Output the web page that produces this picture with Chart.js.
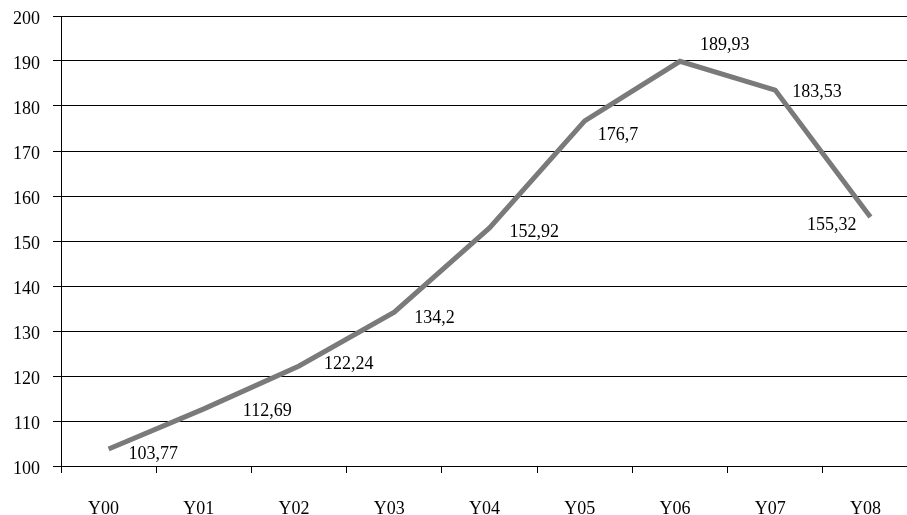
<!DOCTYPE html>
<html>
<head>
<meta charset="utf-8">
<script src="https://cdn.jsdelivr.net/npm/chart.js@4.4.1/dist/chart.umd.min.js"></script>
<style>
  html, body { margin: 0; padding: 0; background: #fff; overflow: hidden; }
  #wrap { width: 907px; height: 515px; overflow: hidden; }
  canvas { display: block; }
</style>
</head>
<body>
<div id="wrap"><canvas id="chart" width="918" height="515"></canvas></div>
<script>
// Yearly index values
const categories = ['Y00', 'Y01', 'Y02', 'Y03', 'Y04', 'Y05', 'Y06', 'Y07', 'Y08'];
const values = [103.77, 112.69, 122.24, 134.2, 152.92, 176.7, 189.93, 183.53, 155.32];
const yTicks = [100, 110, 120, 130, 140, 150, 160, 170, 180, 190, 200];

// Hand placement of each value label relative to its point: [dx, dy baseline, align]
const labelPlacement = [
  [20, 10, 'left'], [39, 7, 'left'], [25, 3, 'left'], [20, 11, 'left'], [20, 9, 'left'],
  [13, 19, 'left'], [20, -11, 'left'], [17, 7, 'left'], [-14, 13, 'right']
];

const FONT = '"Liberation Serif", "Times New Roman", serif';

// Draws the decimal-comma value labels next to the line points
const valueLabels = {
  id: 'valueLabels',
  afterDatasetsDraw(chart) {
    const ctx = chart.ctx;
    const meta = chart.getDatasetMeta(0);
    ctx.save();
    ctx.font = '18px ' + FONT;
    ctx.fillStyle = '#000';
    ctx.textBaseline = 'alphabetic';
    meta.data.forEach((pt, i) => {
      const [dx, dy, align] = labelPlacement[i];
      ctx.textAlign = align;
      const text = String(values[i]).replace('.', ',');
      ctx.fillText(text, pt.x + dx, pt.y + dy);
    });
    ctx.restore();
  }
};

new Chart(document.getElementById('chart'), {
  type: 'line',
  data: {
    labels: categories,
    datasets: [{
      data: values,
      borderColor: '#7a7a7a',
      borderWidth: 5,
      pointRadius: 0,
      pointHoverRadius: 0,
      tension: 0,
      fill: false,
      borderCapStyle: 'butt',
      borderJoinStyle: 'miter'
    }]
  },
  options: {
    responsive: false,
    animation: false,
    devicePixelRatio: 1,
    layout: { padding: { top: 16, right: 0, bottom: 0, left: 0 } },
    plugins: {
      legend: { display: false },
      tooltip: { enabled: false }
    },
    scales: {
      x: {
        type: 'category',
        offset: true,
        afterFit: (s) => { s.height = 49; s.paddingLeft = 0; s.paddingRight = 0; },
        grid: {
          offset: true,
          drawOnChartArea: false,
          drawTicks: true,
          tickLength: 7,
          color: '#000',
          lineWidth: 1
        },
        border: { display: true, color: '#000', width: 1 },
        ticks: {
          font: { family: FONT, size: 18 },
          color: '#000',
          padding: 25,
          labelOffset: -5,
          maxRotation: 0,
          autoSkip: false
        }
      },
      y: {
        min: yTicks[0],
        max: yTicks[yTicks.length - 1],
        afterFit: (s) => { s.width = 61; s.paddingTop = 0; s.paddingBottom = 0; },
        afterBuildTicks: (s) => { s.ticks = yTicks.map(v => ({ value: v })); },
        grid: {
          drawTicks: true,
          tickLength: 8,
          color: '#000',
          lineWidth: 1
        },
        border: { display: true, color: '#000', width: 1 },
        ticks: {
          font: { family: FONT, size: 18 },
          color: '#000',
          padding: 13,
          labelOffset: 3
        }
      }
    }
  },
  plugins: [valueLabels]
});
</script>
</body>
</html>
